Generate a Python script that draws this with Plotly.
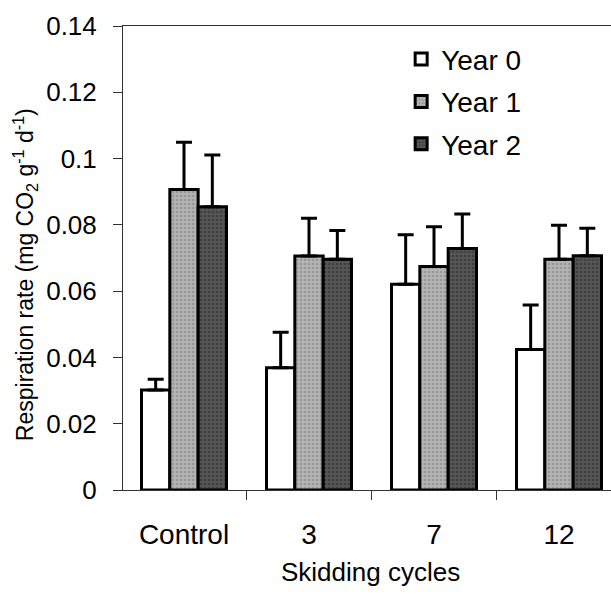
import plotly.graph_objects as go

categories = ["Control", "3", "7", "12"]
series_names = ["Year 0", "Year 1", "Year 2"]
year0 = [0.0302, 0.0369, 0.0621, 0.0424]
year1 = [0.0907, 0.0706, 0.0674, 0.0696]
year2 = [0.0855, 0.0696, 0.0729, 0.0707]
year0_err = [0.0032, 0.0107, 0.0149, 0.0134]
year1_err = [0.0142, 0.0114, 0.0120, 0.0103]
year2_err = [0.0156, 0.0087, 0.0104, 0.0083]
y_ticks = [0, 0.02, 0.04, 0.06, 0.08, 0.1, 0.12, 0.14]
y_tick_labels = ["0", "0.02", "0.04", "0.06", "0.08", "0.1", "0.12", "0.14"]

values = [year0, year1, year2]
errors = [year0_err, year1_err, year2_err]
fills = [
    dict(color="white"),
    dict(color="#a9a9a9", pattern=dict(shape=".", fgcolor="#7a7a7a", bgcolor="#b4b4b4", size=4, solidity=0.35)),
    dict(color="#474747", pattern=dict(shape=".", fgcolor="#262626", bgcolor="#565656", size=4, solidity=0.35)),
]

fig = go.Figure()
for i, (name, vals, errs) in enumerate(zip(series_names, values, errors)):
    fig.add_trace(go.Bar(
        name=name,
        x=categories,
        y=vals,
        legendgroup=name,
        marker=dict(line=dict(color="black", width=3), **fills[i]),
        error_y=dict(type="data", symmetric=False, array=errs,
                     arrayminus=[0] * len(errs), color="black",
                     thickness=3, width=8),
    ))

font_main = "Liberation Sans, Arial, sans-serif"
fig.update_layout(
    width=611, height=595,
    margin=dict(l=123, r=0, t=26, b=105),
    paper_bgcolor="white", plot_bgcolor="white",
    barmode="group", bargap=0.32, bargroupgap=0,
    font=dict(family=font_main, color="black"),
    showlegend=True,
    legend=dict(x=0.57, y=0.982, xanchor="left", yanchor="top",
                font=dict(size=28, family=font_main),
                bgcolor="rgba(0,0,0,0)", tracegroupgap=3,
                itemwidth=30),
    xaxis=dict(
        type="category", range=[-0.488, 3.416], automargin=False,
        showline=True, linecolor="#333", linewidth=1, mirror=True,
        ticks="outside", tickson="boundaries", ticklen=9, tickcolor="#333",
        tickfont=dict(size=28), ticklabelstandoff=19,
        showgrid=False, zeroline=False,
    ),
    yaxis=dict(
        range=[0, 0.14], tickvals=y_ticks, ticktext=y_tick_labels,
        automargin=False,
        showline=True, linecolor="#333", linewidth=1,
        ticks="outside", ticklen=9, tickcolor="#333",
        tickfont=dict(size=26), ticklabelstandoff=11,
        showgrid=False, zeroline=False,
    ),
    annotations=[
        dict(text="Respiration rate (mg CO<sub>2</sub> g<sup>-1</sup> d<sup>-1</sup>)",
             xref="paper", yref="paper", x=-0.201, y=0.465,
             xanchor="center", yanchor="middle", textangle=-90,
             showarrow=False, font=dict(size=23)),
        dict(text="Skidding cycles", xref="paper", yref="paper",
             x=0.507, y=-0.177, xanchor="center", yanchor="middle",
             showarrow=False, font=dict(size=26)),
    ],
)

fig.write_html("out.html",
               config={"displayModeBar": False},
               post_script="document.body.style.margin='0px';document.body.style.overflow='hidden';")
